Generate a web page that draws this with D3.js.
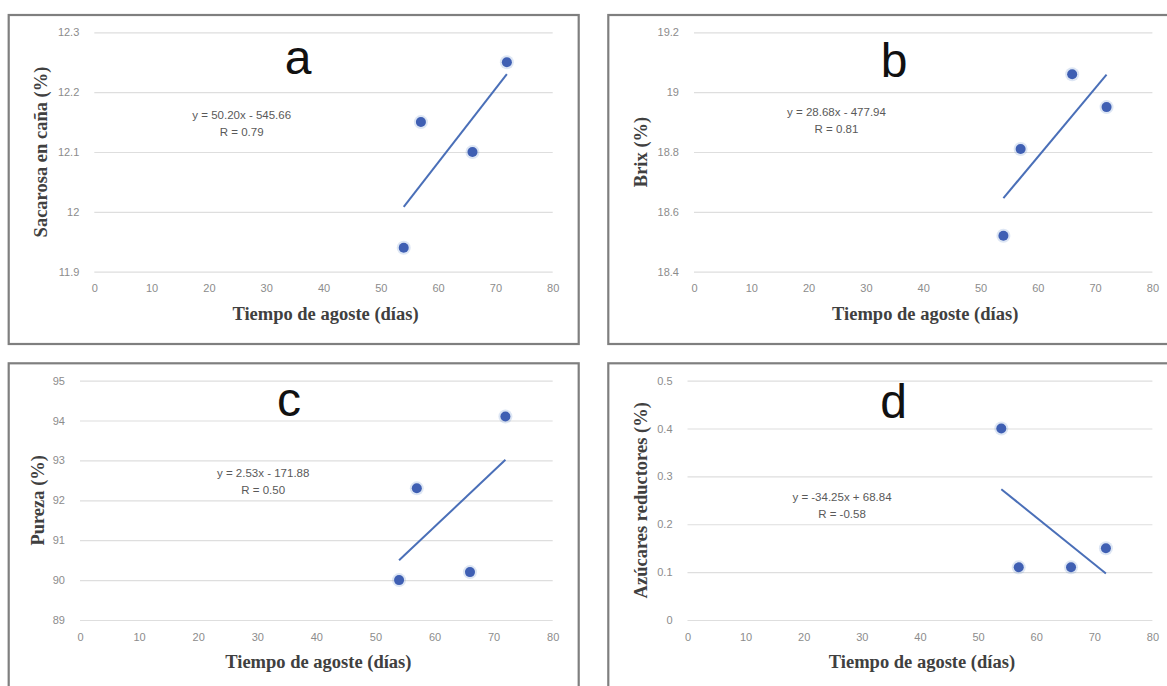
<!DOCTYPE html>
<html>
<head>
<meta charset="utf-8">
<script src="https://cdn.jsdelivr.net/npm/d3@7/dist/d3.min.js"></script>
<style>
  html, body { margin: 0; padding: 0; background: #fff; }
  svg { display: block; }
</style>
</head>
<body>
<svg id="chart" width="1167" height="686"></svg>
<script>
// ---- data ----
const days = [54, 57, 66, 72];
const sacarosa = [11.94, 12.15, 12.10, 12.25];
const brix = [18.52, 18.81, 19.06, 18.95];
const pureza = [90.0, 92.3, 90.2, 94.1];
const azucares = [0.40, 0.11, 0.11, 0.15];

const xTicks = [0, 10, 20, 30, 40, 50, 60, 70, 80];
const yTicksA = [11.9, 12.0, 12.1, 12.2, 12.3];
const yTicksB = [18.4, 18.6, 18.8, 19.0, 19.2];
const yTicksC = [89, 90, 91, 92, 93, 94, 95];
const yTicksD = [0, 0.1, 0.2, 0.3, 0.4, 0.5];

const panelLetters = ["a", "b", "c", "d"];
const yTitles = ["Sacarosa en caña (%)", "Brix (%)", "Pureza (%)", "Azúcares reductores (%)"];
const xTitle = "Tiempo de agoste (días)";
const equations = ["y = 50.20x - 545.66", "y = 28.68x - 477.94", "y = 2.53x - 171.88", "y = -34.25x + 68.84"];
const rValues = ["R = 0.79", "R = 0.81", "R = 0.50", "R = -0.58"];

// ---- layout ----
const panels = [
  { vals: sacarosa, ticks: yTicksA, fmt: d3.format(".1~f"),
    box: [8.7, 15, 570, 329], px: [94.3, 552.7], py: [271.7, 32.3], ytx: 41,
    letter: [298, 74], eq: [241.7, 119] },
  { vals: brix, ticks: yTicksB, fmt: d3.format(".1~f"),
    box: [608.3, 15, 570, 329], px: [694, 1152.4], py: [271.7, 32.3], ytx: 640.5,
    letter: [894, 77], eq: [836.5, 116] },
  { vals: pureza, ticks: yTicksC, fmt: d3.format("d"),
    box: [8.7, 363.3, 570, 329], px: [80, 552.7], py: [620, 380.6], ytx: 38,
    letter: [289, 416], eq: [263.2, 477] },
  { vals: azucares, ticks: yTicksD, fmt: d3.format(".1~f"),
    box: [608.3, 363.3, 570, 329], px: [687.5, 1152.4], py: [620, 380.6], ytx: 640.5,
    letter: [893.5, 418], eq: [842, 501] }
];

const svg = d3.select("#chart");

function regression(xs, ys) {
  const mx = d3.mean(xs), my = d3.mean(ys);
  let sxy = 0, sxx = 0;
  xs.forEach((x, i) => { sxy += (x - mx) * (ys[i] - my); sxx += (x - mx) * (x - mx); });
  const m = sxy / sxx;
  return x => my + m * (x - mx);
}

panels.forEach((p, i) => {
  const g = svg.append("g");
  const x = d3.scaleLinear().domain([0, 80]).range(p.px);
  const y = d3.scaleLinear().domain(d3.extent(p.ticks)).range(p.py);

  // border
  g.append("rect")
    .attr("x", p.box[0]).attr("y", p.box[1])
    .attr("width", p.box[2]).attr("height", p.box[3])
    .attr("fill", "#fff").attr("stroke", "#7f7f7f").attr("stroke-width", 2.2);

  // horizontal gridlines via axis
  const yAxis = d3.axisLeft(y).tickValues(p.ticks).tickFormat(p.fmt)
    .tickSize(-(p.px[1] - p.px[0])).tickPadding(15);
  const ya = g.append("g").attr("transform", `translate(${p.px[0]},0)`).call(yAxis);
  ya.select(".domain").remove();
  ya.selectAll(".tick line").attr("stroke", "#dedede").attr("stroke-width", 1.2);
  ya.selectAll(".tick text").attr("fill", "#8c8c8c")
    .style("font-family", "'Liberation Sans', Arial, sans-serif").style("font-size", "11px")
    .attr("x", -15);

  // x axis labels
  const xAxis = d3.axisBottom(x).tickValues(xTicks).tickSize(0).tickPadding(13);
  const xa = g.append("g").attr("transform", `translate(0,${p.py[0]})`).call(xAxis);
  xa.select(".domain").remove();
  xa.selectAll(".tick text").attr("fill", "#8c8c8c")
    .style("font-family", "'Liberation Sans', Arial, sans-serif").style("font-size", "11px");

  // axis titles
  g.append("text")
    .attr("x", (p.px[0] + p.px[1]) / 2 + 2).attr("y", p.py[0] + 48)
    .attr("text-anchor", "middle")
    .style("font-family", "'Liberation Serif', 'Times New Roman', serif")
    .style("font-weight", "bold").style("font-size", "18.5px")
    .attr("fill", "#404040")
    .text(xTitle);
  g.append("text")
    .attr("transform", `translate(${p.ytx},${(p.py[0] + p.py[1]) / 2}) rotate(-90)`)
    .attr("text-anchor", "middle").attr("dy", "0.35em")
    .style("font-family", "'Liberation Serif', 'Times New Roman', serif")
    .style("font-weight", "bold").style("font-size", "18.5px")
    .attr("fill", "#404040")
    .text(yTitles[i]);

  // trendline
  const f = regression(days, p.vals);
  const x0 = d3.min(days), x1 = d3.max(days);
  g.append("line")
    .attr("x1", x(x0)).attr("y1", y(f(x0)))
    .attr("x2", x(x1)).attr("y2", y(f(x1)))
    .attr("stroke", "#4a6fb8").attr("stroke-width", 2);

  // points
  const pts = g.append("g").selectAll("g").data(days.map((d, k) => [d, p.vals[k]])).join("g");
  pts.append("circle").attr("cx", d => x(d[0])).attr("cy", d => y(d[1]))
    .attr("r", 7).attr("fill", "#4472c4").attr("opacity", 0.18);
  pts.append("circle").attr("cx", d => x(d[0])).attr("cy", d => y(d[1]))
    .attr("r", 5).attr("fill", "#3f5fb3");

  // panel letter
  g.append("text")
    .attr("x", p.letter[0]).attr("y", p.letter[1])
    .attr("text-anchor", "middle")
    .style("font-family", "'Liberation Sans', Arial, sans-serif").style("font-size", "48px")
    .attr("fill", "#111")
    .text(panelLetters[i]);

  // equation
  const eq = g.append("text")
    .attr("text-anchor", "middle")
    .style("font-family", "'Liberation Sans', Arial, sans-serif").style("font-size", "11.5px")
    .attr("fill", "#595959");
  eq.append("tspan").attr("x", p.eq[0]).attr("y", p.eq[1]).text(equations[i]);
  eq.append("tspan").attr("x", p.eq[0]).attr("y", p.eq[1] + 17).text(rValues[i]);
});
</script>
</body>
</html>
